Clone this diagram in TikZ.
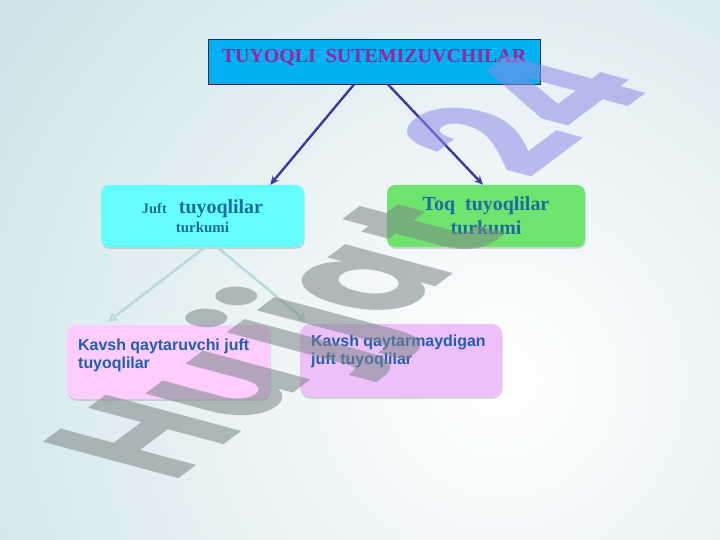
\documentclass[tikz,border=0pt]{standalone}
\usepackage{fontspec}
\setmainfont{Liberation Serif}
\setsansfont{Liberation Sans}
\newfontfamily\markfont{Poppins}
\usetikzlibrary{arrows.meta, shadows}

\definecolor{bgedge}{HTML}{AED2D9}
\definecolor{titlefill}{HTML}{00B0F0}
\definecolor{titleline}{HTML}{1F2F4F}
\definecolor{titletext}{HTML}{A0209F}
\definecolor{juftfill}{HTML}{66FFFF}
\definecolor{toqfill}{HTML}{6EE46E}
\definecolor{boxtext}{HTML}{1E6C9E}
\definecolor{kavAfill}{HTML}{FFCCFF}
\definecolor{kavBfill}{HTML}{EEC0FA}
\definecolor{leafblue}{HTML}{1F5FAF}
\definecolor{arrowdark}{HTML}{3B3B9F}
\definecolor{arrowlight}{HTML}{BCD9DC}
\definecolor{markgray}{HTML}{7A8686}
\definecolor{markblue}{HTML}{8C8CE8}

\begin{document}
\begin{tikzpicture}[x=1bp, y=-1bp,
	kind/.style={rounded corners=8bp, drop shadow={shadow xshift=0.6bp, shadow yshift=-1.8bp, opacity=0.3}},
	headtext/.style={text=boxtext, align=center},
	leaftext/.style={font=\sffamily\bfseries\fontsize{16}{18}\selectfont, text=leafblue, align=left, anchor=north west, inner sep=0},
	mainarrow/.style={draw=arrowdark, line width=2.4bp, -{Stealth[length=9bp, width=8bp]}},
	subarrow/.style={draw=arrowlight, line width=2.6bp, -{Triangle[open, length=9bp, width=9bp]}}
]
	% Draw the background
	\begin{scope}
		\clip (0,0) rectangle (720,540);
		\fill[bgedge] (0,0) rectangle (720,540);
		\shade[inner color=white, outer color=bgedge] (500,380) circle (1000);
	\end{scope}
	\useasboundingbox (0,0) rectangle (720,540);

	% Draw the title box
	\node[draw=titleline, line width=0.8bp, fill=titlefill, minimum width=332bp, text height=24bp, text depth=21bp, inner sep=0, text=titletext, font=\bfseries\fontsize{20}{24}\selectfont] (title) at (374,61.5) {TUYOQLI\ \ SUTEMIZUVCHILAR};

	% Draw the two orders
	\node[kind, fill=juftfill, minimum width=203bp, minimum height=62bp, headtext, font=\bfseries\fontsize{15}{19}\selectfont] (juft) at (202.5,216)
		{{\fontsize{14.5}{19}\selectfont Juft}\hspace{12bp}{\fontsize{20}{19}\selectfont tuyoqlilar}\\turkumi};
	\node[kind, fill=toqfill, minimum width=198bp, minimum height=62bp, headtext, font=\bfseries\fontsize{20}{24}\selectfont] (toq) at (486,216)
		{\raisebox{-2bp}{Toq\ \ tuyoqlilar}\\\raisebox{-2bp}{turkumi}};

	% Draw the two groups of the first order
	\node[kind, rounded corners=10bp, fill=kavAfill, minimum width=203bp, minimum height=74bp] (kavA) at (168.5,362) {};
	\node[leaftext] (kavAtext) at (78,338.5) {Kavsh qaytaruvchi juft\\tuyoqlilar};
	\node[kind, rounded corners=10bp, fill=kavBfill, minimum width=202bp, minimum height=73bp] (kavB) at (401,360.5) {};
	\node[leaftext] (kavBtext) at (311,334.5) {Kavsh qaytarmaydigan\\juft tuyoqlilar};

	% Arrows
	\draw[mainarrow] ([xshift=-20bp]title.south) -- ([xshift=-34bp]juft.north east);
	\draw[mainarrow] ([xshift=14bp]title.south) -- ([xshift=-3bp]toq.north);
	\draw[subarrow] ([xshift=2.5bp]juft.south) -- ([shift={(41bp,3bp)}]kavA.north west);
	\draw[subarrow] ([xshift=15bp]juft.south) -- ([shift={(7bp,2bp)}]kavB.north west);

	% Watermark over everything
	\begin{scope}[cm={1.04,0.78,-1.94,0.52,(172,484)}]
		\node[transform shape, anchor=base west, inner sep=0, opacity=0.55, font=\markfont\bfseries\fontsize{100}{100}\selectfont] (mark) at (0,0)
			{\textcolor{markgray}{Hu\kern10bp jja\kern8bp t}\textcolor{markblue}{\kern52bp\raisebox{18bp}{24}}};
	\end{scope}
\end{tikzpicture}
\end{document}
